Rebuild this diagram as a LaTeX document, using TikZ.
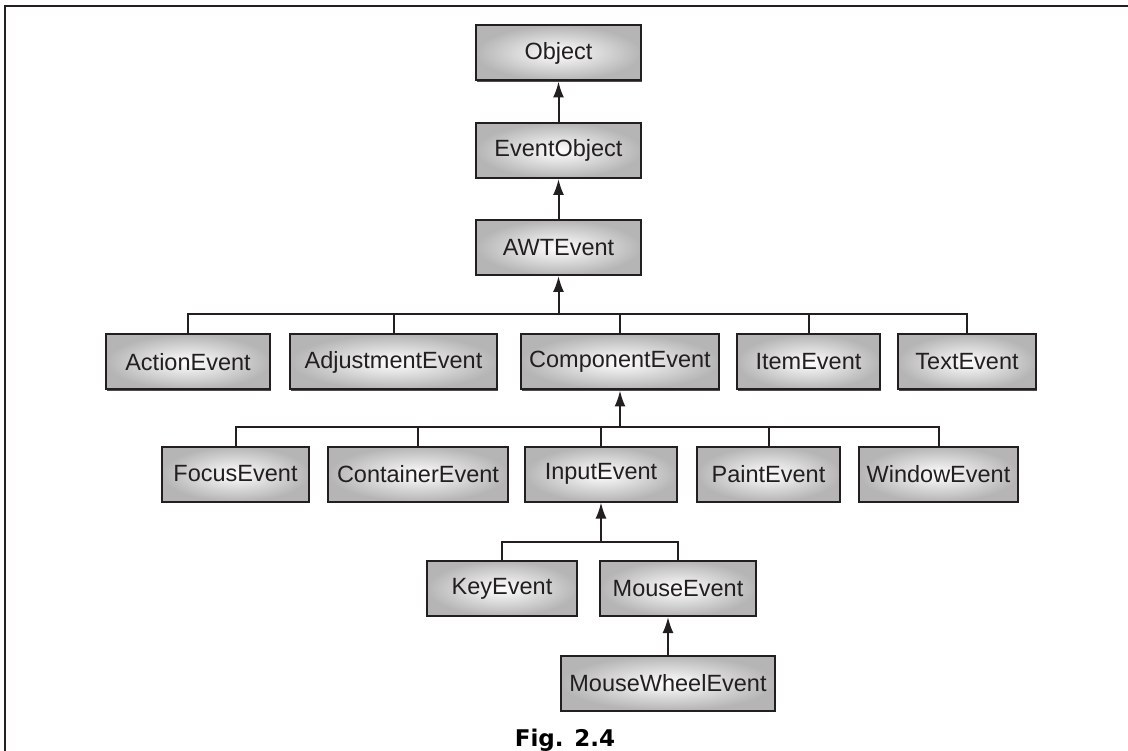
\documentclass[tikz,border=0pt]{standalone}
\usepackage{fontspec}
\setmainfont{Liberation Sans}
\newfontfamily\capfont{DejaVu Sans}
\usetikzlibrary{arrows.meta}
\usetikzlibrary{shadows}

\definecolor{inkgray}{HTML}{231F20}
\colorlet{boxedge}{gray!58}

\tikzset{
  evbox/.style={draw=inkgray, line width=2pt, inner color=white, outer color=boxedge,
    minimum height=55pt, text=inkgray, font=\fontsize{23.5}{27}\selectfont,
    drop shadow={shadow xshift=1.2pt, shadow yshift=-1.2pt, fill=inkgray, opacity=0.8}},
  conn/.style={draw=inkgray, line width=2pt},
  arr/.style={conn, -{Latex[length=16pt,width=11pt]}},
}

\begin{document}
\begin{tikzpicture}[x=1pt, y=-1pt]
\useasboundingbox (0,0) rectangle (1128,751);
%frame
\draw[inkgray, line width=2.4pt] (5,751) -- (5,6) -- (1128,6);

%top chain
\node[evbox, minimum width=165pt] (obj) at (558.5,53) {Object};
\node[evbox, minimum width=165pt] (evo) at (558.5,150.5) {EventObject};
\node[evbox, minimum width=165pt] (awt) at (558.5,247.5) {AWTEvent};

%second row
\node[evbox, minimum width=164pt] (act) at (188,362) {ActionEvent};
\node[evbox, minimum width=207pt] (adj) at (393.5,362) {AdjustmentEvent};
\node[evbox, minimum width=198pt] (cmp) at (620,362) {ComponentEvent};
\node[evbox, minimum width=143pt] (itm) at (808.5,362) {ItemEvent};
\node[evbox, minimum width=138pt] (txt) at (967,362) {TextEvent};

%third row
\node[evbox, minimum width=147pt] (foc) at (235.5,474) {FocusEvent};
\node[evbox, minimum width=180pt] (con) at (418,474) {ContainerEvent};
\node[evbox, minimum width=152pt] (inp) at (601,474) {InputEvent};
\node[evbox, minimum width=143pt] (pnt) at (768.5,474) {PaintEvent};
\node[evbox, minimum width=159pt] (win) at (938.5,474) {WindowEvent};

%fourth row
\node[evbox, minimum width=150pt] (key) at (502,588.5) {KeyEvent};
\node[evbox, minimum width=156pt] (mou) at (678,588.5) {MouseEvent};

%fifth row
\node[evbox, minimum width=214pt] (mwe) at (668,683) {MouseWheelEvent};

%bus points
\coordinate (b1) at (awt.south |- 0,314);
\coordinate (b2) at (cmp.south |- 0,427);
\coordinate (b3) at (inp.south |- 0,542);

%inheritance arrows
\draw[arr] (evo) -- (obj);
\draw[arr] (awt) -- (evo);
\draw[arr] (b1) -- (awt);
\draw[arr] (b2) -- (cmp);
\draw[arr] (b3) -- (inp);
\draw[arr] (mwe.north) -- (mwe.north |- mou.south);

%buses
\draw[conn] (act.north) |- (b1) -| (txt.north);
\draw[conn] (adj.north) -- (adj.north |- b1);
\draw[conn] (cmp.north) -- (cmp.north |- b1);
\draw[conn] (itm.north) -- (itm.north |- b1);

\draw[conn] (foc.north) |- (b2) -| (win.north);
\draw[conn] (con.north) -- (con.north |- b2);
\draw[conn] (inp.north) -- (inp.north |- b2);
\draw[conn] (pnt.north) -- (pnt.north |- b2);

\draw[conn] (key.north) |- (b3) -| (mou.north);

%caption
\node[font=\capfont\bfseries\fontsize{23}{27}\selectfont, text=black] (cap) at (565,740) {Fig. 2.4};
\end{tikzpicture}
\end{document}
